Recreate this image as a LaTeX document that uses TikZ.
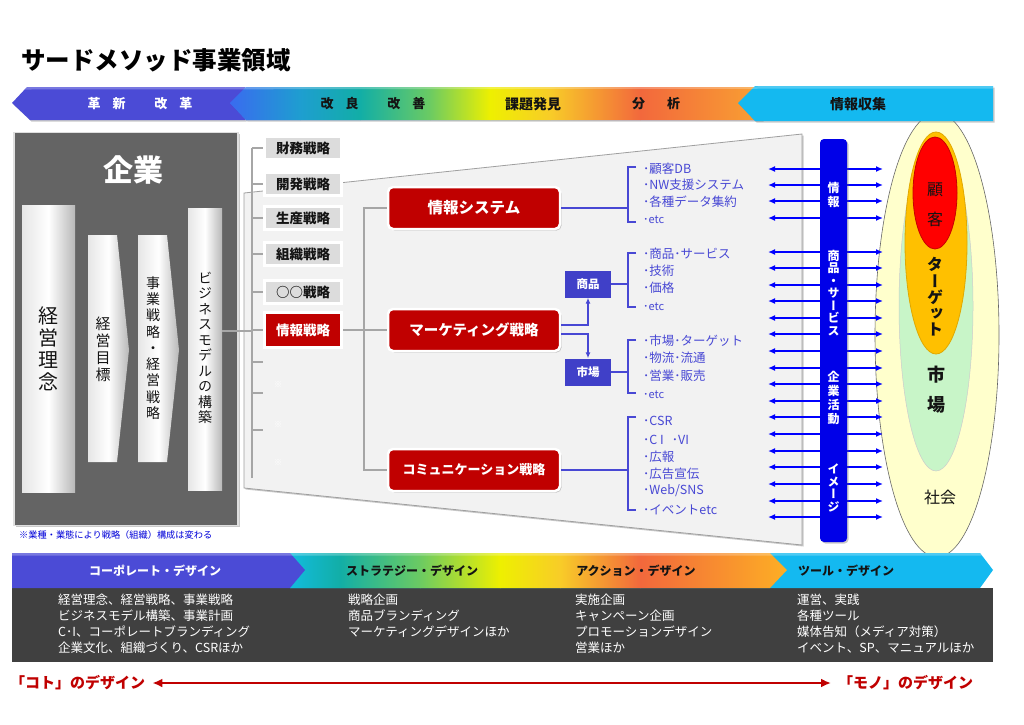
\documentclass[tikz,border=0pt]{standalone}
\usepackage{fontspec}
\setmainfont{Noto Sans CJK JP}
\newfontfamily\jpv{Noto Sans CJK JP}[RawFeature={+vert}]
\usetikzlibrary{shadows,arrows.meta,calc}
\definecolor{violetb}{HTML}{4B4BD6}
\definecolor{cyanb}{HTML}{14B9F0}
\definecolor{redbox}{HTML}{C00000}
\definecolor{listblue}{HTML}{4848D4}
\definecolor{smallblue}{HTML}{4040C8}
\definecolor{barblue}{HTML}{0000E8}
\definecolor{arrblue}{HTML}{0000FF}
\definecolor{entgray}{HTML}{646464}
\definecolor{darkband}{HTML}{404040}
\definecolor{funnelc}{HTML}{F2F2F2}
\definecolor{boxgray}{HTML}{DCDCDC}
\definecolor{lngray}{HTML}{A6A6A6}
\definecolor{ellY}{HTML}{FFFFCC}
\definecolor{ellG}{HTML}{C8F5C8}
\definecolor{ellO}{HTML}{FFC000}
\definecolor{ellOd}{HTML}{E0A800}
\definecolor{ellR}{HTML}{FF0000}
\definecolor{ellRd}{HTML}{C80000}
\definecolor{pilL}{HTML}{E6E6E6}
\definecolor{pilR}{HTML}{B8B8B8}
\definecolor{ga}{HTML}{3A6AF0}
\definecolor{gb}{HTML}{1E9ED0}
\definecolor{gc}{HTML}{12AEA6}
\definecolor{gd}{HTML}{6CCB62}
\definecolor{ge}{HTML}{EEF000}
\definecolor{gf}{HTML}{F8CC28}
\definecolor{gg}{HTML}{F2683C}
\definecolor{gh}{HTML}{F9A232}
\definecolor{bga}{HTML}{12BCE0}
\definecolor{bgh}{HTML}{FDB024}
\definecolor{txtdark}{HTML}{141414}
\begin{document}
\begin{tikzpicture}[x=1pt,y=-1pt,
  sh/.style={drop shadow={shadow xshift=1.5pt,shadow yshift=-1.5pt,opacity=.35,fill=black!60}},
  sbox/.style={fill=boxgray,draw=white,line width=3pt,minimum width=77pt,minimum height=23pt,inner sep=0pt,sh,text=txtdark,font=\fontsize{13.5}{13.5}\selectfont\bfseries},
  rbox/.style={fill=redbox,draw=white,line width=2.5pt,rounded corners=5pt,minimum width=172pt,minimum height=42pt,inner sep=0pt,sh,text=white},
  bbox/.style={fill=smallblue,minimum width=46pt,minimum height=27pt,inner sep=0pt,text=white,font=\fontsize{11.5}{11.5}\selectfont\bfseries},
  item/.style={anchor=west,inner sep=0pt,text=listblue,font=\fontsize{12.5}{12.5}\selectfont},
  bln/.style={draw=listblue,line width=1.4pt},
  gln/.style={draw=lngray,line width=1.8pt},
  dbl/.style={draw=arrblue,line width=1.8pt,{Latex[length=7pt,width=6pt]}-{Latex[length=7pt,width=6pt]}},
  vt/.style={align=center,inner sep=0pt},
  pillar/.style={left color=pilL,right color=pilR,middle color=white,sh,inner sep=0pt},
  blist/.style={anchor=north west,align=left,inner sep=0pt,text=white,font=\fontsize{12.5}{16}\selectfont},
  bandlab/.style={inner sep=0pt,font=\fontsize{12}{12}\selectfont\bfseries},
  toplab/.style={inner sep=0pt,font=\fontsize{13}{13}\selectfont\bfseries},
  nums/.style={inner sep=0pt}]
\useasboundingbox (0,0) rectangle (1024,724);
\fill[white] (0,0) rectangle (1024,724);

% title
\node[anchor=west,inner sep=0pt,font=\fontsize{24.5}{26}\selectfont\bfseries] (title) at (21,60) {サードメソッド事業領域};

% ellipses (market)
\path[fill=ellY,draw=gray!80!black,line width=0.6pt] (937,335) ellipse [x radius=62,y radius=222];
\path[fill=ellG,draw=gray!40,line width=0.5pt] (936,306) ellipse [x radius=37,y radius=165];
\path[fill=ellO,draw=ellOd,line width=0.8pt] (936,243) ellipse [x radius=31,y radius=111];
\path[fill=ellR,draw=ellRd,line width=0.8pt] (935,193) ellipse [x radius=22,y radius=56];
\node[vt,text=txtdark,font=\jpv\fontsize{16}{30}\selectfont] (kokyaku) at (935,205) {顧\\客};
\node[vt,text=txtdark,font=\jpv\fontsize{16}{16.2}\selectfont\bfseries] (target) at (935,297) {タ\\ー\\ゲ\\ッ\\ト};
\node[vt,text=txtdark,font=\jpv\fontsize{18}{30}\selectfont\bfseries] (shijoE) at (936,390) {市\\場};
\node[inner sep=0pt,text=txtdark,font=\fontsize{16}{16}\selectfont] (shakai) at (940,497) {社会};

% funnel
\path[fill=funnelc,draw=gray!75,line width=0.8pt,sh] (244,193) -- (802,134) -- (802,545) -- (244,488) -- cycle;

% enterprise box
\node[draw=gray!25,line width=1.5pt,fill=entgray,minimum width=224pt,minimum height=393pt,inner sep=0pt,sh] (ent) at (126,329) {};
\node[inner sep=0pt,text=white,font=\fontsize{30}{30}\selectfont\bfseries] (kigyo) at (133,170) {企業};
\node[pillar,minimum width=53pt,minimum height=287pt] (p1) at (48.5,348.5) {};
\node[vt,text=txtdark,font=\jpv\fontsize{20}{22}\selectfont] (p1t) at (p1) {経\\営\\理\\念};
\path[left color=pilL,right color=pilR,middle color=white,sh] (88,235) -- (117,235) -- (129,350) -- (117,462) -- (88,462) -- cycle;
\node[vt,text=txtdark,font=\jpv\fontsize{15}{17}\selectfont] (p2t) at (103,349) {経\\営\\目\\標};
\path[left color=pilL,right color=pilR,middle color=white,sh] (138,235) -- (167,235) -- (179,350) -- (167,462) -- (138,462) -- cycle;
\node[vt,text=txtdark,font=\jpv\fontsize{14}{16.3}\selectfont] (p3t) at (153,348) {事\\業\\戦\\略\\・\\経\\営\\戦\\略};
\node[pillar,minimum width=34pt,minimum height=282pt] (bm) at (205,349) {};
\node[vt,text=txtdark,font=\jpv\fontsize{14}{15.5}\selectfont] (bmt) at (205,348) {ビ\\ジ\\ネ\\ス\\モ\\デ\\ル\\の\\構\\築};
\node[anchor=west,inner sep=0pt,text=blue!85!black,font=\fontsize{9.2}{9.2}\selectfont] (note) at (19,535) {※業種・業態により戦略（組織）構成は変わる};

% strategy list
\coordinate (spT) at (252,148);
\coordinate (spB) at (252,478);
\coordinate (bmc) at ($(bm.east)+(0,-18)$);
\coordinate (e1) at (263,362);
\coordinate (e2) at (263,393);
\coordinate (e3) at (263,430);
\coordinate (tx) at (364,0);
\node[sbox] (s1) at (303,148) {財務戦略};
\node[sbox] (s2) at (303,184) {開発戦略};
\node[sbox] (s3) at (303,218) {生産戦略};
\node[sbox] (s4) at (303,254) {組織戦略};
\node[sbox] (s5) at (303,292) {○○戦略};
\draw[gln] (spT) -- (spB);
\draw[gln] (bmc) -- (bmc -| spT);
\foreach \n in {s1,s2,s3,s4,s5} {\draw[gln] (\n.west -| spT) -- (\n.west);}
\foreach \n in {e1,e2,e3} {\draw[gln] (\n -| spT) -- (\n);}
\node[sbox,fill=redbox,text=white,minimum height=35pt] (s6) at (303,330) {情報戦略};
\draw[gln] (s6.west -| spT) -- (s6.west);
\node[inner sep=0pt,text=white,font=\fontsize{8}{8}\selectfont] (m1) at (278,385) {※};
\node[inner sep=0pt,text=white,font=\fontsize{8}{8}\selectfont] (m2) at (278,425) {※};
\node[inner sep=0pt,text=white,font=\fontsize{8}{8}\selectfont] (m3) at (278,463) {※};

% red strategy boxes
\node[rbox,font=\fontsize{15.5}{15.5}\selectfont\bfseries] (is) at (474,208) {情報システム};
\node[rbox,font=\fontsize{14.5}{14.5}\selectfont\bfseries] (mk) at (474,330) {マーケティング戦略};
\node[rbox,font=\fontsize{13}{13}\selectfont\bfseries] (cm) at (474,470) {コミュニケーション戦略};
\draw[gln] (s6.east) -- (s6.east -| mk.west);
\draw[gln] (is.west) -- (is.west -| tx) -- (cm.west -| tx) -- (cm.west);

% small blue boxes
\node[bbox] (sh) at (588,284) {商品};
\node[bbox] (sj) at (588,372) {市場};
\draw[bln,-{Latex[length=6pt,width=5pt]}] ($(mk.east)+(0,-5)$) -| (sh.south);
\draw[bln,-{Latex[length=6pt,width=5pt]}] ($(mk.east)+(0,4)$) -| (sj.north);

% brackets
\coordinate (bx) at (628,0);
\coordinate (k1a) at (636,167); \coordinate (k1b) at (636,222);
\coordinate (k2a) at (636,253); \coordinate (k2b) at (636,307);
\coordinate (k3a) at (636,340); \coordinate (k3b) at (636,393);
\coordinate (k4a) at (636,417); \coordinate (k4b) at (636,510);
\draw[bln] (k1a) -- ++(-8,0) |- (k1b);
\draw[bln] (k2a) -- ++(-8,0) |- (k2b);
\draw[bln] (k3a) -- ++(-8,0) |- (k3b);
\draw[bln] (k4a) -- ++(-8,0) |- (k4b);
\draw[bln] (is.east) -- (is.east -| bx);
\draw[bln] (sh.east) -- (sh.east -| bx);
\draw[bln] (sj.east) -- (sj.east -| bx);
\draw[bln] (cm.east) -- (cm.east -| bx);

% items
\node[item] (i1) at (643,169) {･顧客DB};
\node[item] (i2) at (643,185) {･NW支援システム};
\node[item] (i3) at (643,202) {･各種データ集約};
\node[item,font=\fontsize{11}{11}\selectfont] (i4) at (643,220) {･etc};
\node[item] (i5) at (643,254) {･商品･サービス};
\node[item] (i6) at (643,271) {･技術};
\node[item] (i7) at (643,288) {･価格};
\node[item,font=\fontsize{11}{11}\selectfont] (i8) at (643,307) {･etc};
\node[item] (i9) at (643,341) {･市場･ターゲット};
\node[item] (i10) at (643,358) {･物流･流通};
\node[item] (i11) at (643,376) {･営業･販売};
\node[item,font=\fontsize{11}{11}\selectfont] (i12) at (643,395) {･etc};
\node[item] (i13) at (643,421) {･CSR};
\node[item] (i14) at (643,440) {･C I\hspace{8pt}･VI};
\node[item] (i15) at (643,457) {･広報};
\node[item] (i16) at (643,474) {･広告宣伝};
\node[item] (i17) at (643,491) {･Web/SNS};
\node[item] (i18) at (643,510) {･イベントetc};

% double arrows
\foreach \yy [count=\i] in {169,185,201,218,252,268,285,301,318,334,351,368,384,401,417,434,451,467,484,501,517} {
  \coordinate (al\i) at (768,\yy);
  \coordinate (ar\i) at (883,\yy);
  \draw[dbl] (al\i) -- (ar\i);
}

% blue bar
\node[fill=barblue,rounded corners=4pt,minimum width=27pt,minimum height=403pt,inner sep=0pt,sh] (bar) at (833.5,340.5) {};
\node[vt,text=white,font=\jpv\fontsize{12}{14}\selectfont\bfseries] (bt1) at (833.5,195) {情\\報};
\node[vt,text=white,font=\jpv\fontsize{12}{12.5}\selectfont\bfseries] (bt2) at (833.5,293) {商\\品\\・\\サ\\ー\\ビ\\ス};
\node[vt,text=white,font=\jpv\fontsize{12}{14}\selectfont\bfseries] (bt3) at (833.5,398) {企\\業\\活\\動};
\node[vt,text=white,font=\jpv\fontsize{12}{12.5}\selectfont\bfseries] (bt4) at (833.5,488) {イ\\メ\\ー\\ジ};

% top band
\path[fill=violetb,sh] (12,103) -- (27,87) -- (245,87) -- (245,120) -- (30,120) -- cycle;
\path[fill=ga,sh] (230,103) -- (246,87) -- (762,87) -- (762,120) -- (246,120) -- cycle;
\begin{scope}
\clip (230,103) -- (246,87) -- (762,87) -- (762,120) -- (246,120) -- cycle;
\shade[left color=ga,right color=gb] (228,80) rectangle (300.5,125);
\shade[left color=gb,right color=gc] (300,80) rectangle (360.5,125);
\shade[left color=gc,right color=gd] (360,80) rectangle (430.5,125);
\shade[left color=gd,right color=ge] (430,80) rectangle (490.5,125);
\shade[left color=ge,right color=gf] (490,80) rectangle (550.5,125);
\shade[left color=gf,right color=gg] (550,80) rectangle (640.5,125);
\shade[left color=gg,right color=gh] (640,80) rectangle (764,125);
\end{scope}
\path[fill=cyanb,sh] (738,103) -- (755,86) -- (993,86) -- (993,121) -- (755,121) -- cycle;
\fill[white,opacity=.25] (27,87) -- (993,86) -- (993,88.5) -- (25,89.5) -- cycle;
\node[toplab,text=white] (tl1) at (140,104) {革\hspace{12pt}新\hspace{29pt}改\hspace{12pt}革};
\node[toplab,text=txtdark] (tl2) at (373,104) {改\hspace{12pt}良\hspace{29pt}改\hspace{12pt}善};
\node[toplab,text=txtdark,font=\fontsize{14}{14}\selectfont\bfseries] (tl3) at (533,104) {課題発見};
\node[toplab,text=txtdark] (tl4) at (656,104) {分\hspace{22pt}析};
\node[toplab,text=txtdark,font=\fontsize{14}{14}\selectfont\bfseries] (tl5) at (858,104) {情報収集};

% bottom band
\fill[darkband] (12,588) rectangle (993,662);
\path[fill=cyanb] (770,553) -- (980,553) -- (993,570) -- (980,588) -- (770,588) -- cycle;
\path[fill=bga] (290,553) -- (770,553) -- (787,570) -- (770,588) -- (290,588) -- cycle;
\begin{scope}
\clip (290,553) -- (770,553) -- (787,570) -- (770,588) -- (290,588) -- cycle;
\shade[left color=bga,right color=gc] (288,550) rectangle (340.5,590);
\shade[left color=gc,right color=gd] (340,550) rectangle (420.5,590);
\shade[left color=gd,right color=ge] (420,550) rectangle (500.5,590);
\shade[left color=ge,right color=gf] (500,550) rectangle (560.5,590);
\shade[left color=gf,right color=gg] (560,550) rectangle (640.5,590);
\shade[left color=gg,right color=bgh] (640,550) rectangle (790,590);
\end{scope}
\path[fill=violetb] (12,553) -- (290,553) -- (305,570) -- (290,588) -- (12,588) -- cycle;
\fill[white,opacity=.25] (12,553) -- (980,553) -- (981.5,555.5) -- (12,555.5) -- cycle;
\node[bandlab,text=white] (bl1) at (155,571) {コーポレート・デザイン};
\node[bandlab,text=txtdark] (bl2) at (412,571) {ストラテジー・デザイン};
\node[bandlab,text=txtdark] (bl3) at (636,571) {アクション・デザイン};
\node[bandlab,text=txtdark] (bl4) at (846,571) {ツール・デザイン};

\node[blist] (c1) at (58,593.5) {経営理念、経営戦略、事業戦略\\ビジネスモデル構築、事業計画\\C･I、コーポレートブランディング\\企業文化、組織づくり、CSRほか};
\node[blist] (c2) at (348,593.5) {戦略企画\\商品ブランディング\\マーケティングデザインほか};
\node[blist] (c3) at (575,593.5) {実施企画\\キャンペーン企画\\プロモーションデザイン\\営業ほか};
\node[blist] (c4) at (797,593.5) {運営、実践\\各種ツール\\媒体告知（メディア対策）\\イベント、SP、マニュアルほか};

% bottom arrow
\node[anchor=west,inner sep=0pt,text=redbox,font=\fontsize{15}{15}\selectfont\bfseries] (koto) at (10,683) {「コト」のデザイン};
\node[anchor=west,inner sep=0pt,text=redbox,font=\fontsize{15}{15}\selectfont\bfseries] (mono) at (838,683) {「モノ」のデザイン};
\draw[redbox,line width=2.5pt,{Latex[length=10pt,width=9pt]}-{Latex[length=10pt,width=9pt]},shorten <=7pt,shorten >=7pt] (koto.east) -- (mono.west);
\end{tikzpicture}
\end{document}
